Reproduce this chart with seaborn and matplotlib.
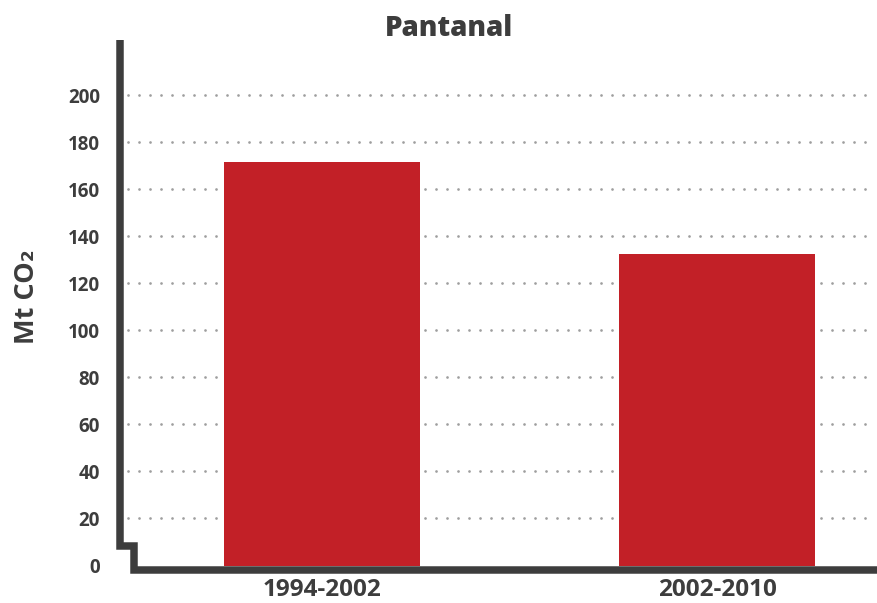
import matplotlib
matplotlib.use("Agg")
import matplotlib.pyplot as plt
import seaborn as sns
import pandas as pd
from matplotlib.lines import Line2D

periods = ["1994-2002", "2002-2010"]
emissions = [171.6, 132.6]
yticks = [0, 20, 40, 60, 80, 100, 120, 140, 160, 180, 200]
title = "Pantanal"
ylabel = "Mt CO\u2082"

sns.set_theme(style="white")
plt.rcParams['font.family'] = ['Open Sans', 'DejaVu Sans']

W, H = 877, 603
fig = plt.figure(figsize=(W / 100, H / 100), dpi=100)
fig.patch.set_facecolor("white")

# axes geometry in pixels
x0, x1 = 119.5, 877.0
y_zero, y_top = 565.5, 40.0
ax = fig.add_axes([x0 / W, (H - y_zero) / H, (x1 - x0) / W, (y_zero - y_top) / H])
ax.set_facecolor("white")

df = pd.DataFrame({"period": periods, "value": emissions})
sns.barplot(data=df, x="period", y="value", color="#C22027", width=0.494,
            saturation=1, ax=ax, zorder=2)
for p in ax.patches:
    p.set_edgecolor("none")

ax.set_xlim(-0.5127, 1.405)
ax.set_ylim(0, 223.6)

# dotted gridlines
for v in yticks[1:]:
    ax.axhline(v, xmin=0.011, xmax=0.993, color="#9e9e9e", lw=2.0,
               linestyle=(0, (0.01, 3.95)), zorder=1, dash_capstyle="round")

for s in ax.spines.values():
    s.set_visible(False)

dark = "#3d3d3d"
ax.set_yticks(yticks)
ax.set_yticklabels([str(t) for t in yticks], fontsize=13.5, fontweight="bold", color=dark)
ax.tick_params(axis="y", length=0, pad=14)
ax.tick_params(axis="x", length=0, pad=9)
for lab in ax.get_xticklabels():
    lab.set_fontsize(17.5)
    lab.set_fontweight("bold")
    lab.set_color(dark)
ax.set_xlabel("")
ax.set_ylabel("")

# custom stepped axis line
px = [119.5, 119.5, 134.0, 134.0, 877.0]
py = [40.0, 545.5, 545.5, 569.5, 569.5]
fig.add_artist(Line2D([x / W for x in px], [(H - y) / H for y in py],
                      transform=fig.transFigure, color=dark, lw=5.4,
                      solid_joinstyle="miter", solid_capstyle="butt", zorder=5))

fig.text(449 / W, (H - 29) / H, title, ha="center", va="center",
         fontsize=20, fontweight="heavy", color=dark)
fig.text(27 / W, (H - 297) / H, ylabel, ha="center", va="center", rotation=90,
         fontsize=19.5, fontweight="bold", color=dark)

fig.savefig("out.png", dpi=100)
